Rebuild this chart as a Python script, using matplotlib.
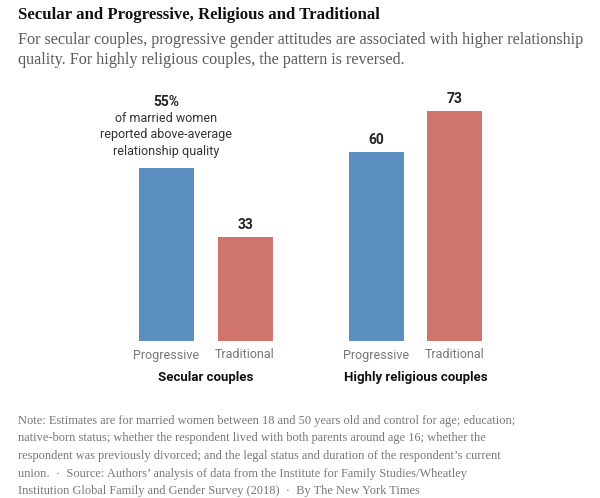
import matplotlib
matplotlib.use("Agg")
import matplotlib.pyplot as plt

# ── data ──────────────────────────────────────────────────────────────────────
groups = ["Secular couples", "Highly religious couples"]
attitudes = ["Progressive", "Traditional", "Progressive", "Traditional"]
values = [55, 33, 60, 73]
positions = [0, 1, 2.67, 3.67]

BLUE = "#5b8fc0"
RED = "#cf756d"
colors = [BLUE, RED, BLUE, RED]

W, H = 600, 498
SANS = ["Roboto", "DejaVu Sans"]
SERIF = ["Liberation Serif", "DejaVu Serif"]


def fy(px):
    return 1 - px / H


def fx(px):
    return px / W


fig = plt.figure(figsize=(W / 100, H / 100), dpi=100)
fig.patch.set_facecolor("white")

# axes placed in pixel terms: baseline at y=341, one unit = 78.5 px in x
ax_left, ax_right = 100, 520
ax_bottom, ax_top = 341, 80
ax = fig.add_axes([fx(ax_left), fy(ax_bottom), fx(ax_right - ax_left), (ax_bottom - ax_top) / H])
ax.set_xlim(-66.5 / 78.5, (ax_right - 166.5) / 78.5)
ax.set_ylim(0, (ax_bottom - ax_top) / 3.15)
ax.axis("off")

bars = ax.bar(positions, values, width=55 / 78.5, color=colors)

# value labels
for i, (p, v) in enumerate(zip(positions, values)):
    if i == 0:
        continue
    ax.annotate(str(v), (p, v), xytext=(0, 12 * 0.72), textcoords="offset points",
                ha="center", va="center", fontsize=10, fontweight="bold",
                color="#222222", family=SANS)

# first bar gets the explanatory label
p0, v0 = positions[0], values[0]
ax.annotate("55%", (p0, v0), xytext=(0, 66 * 0.72), textcoords="offset points",
            ha="center", va="center", fontsize=10, fontweight="bold",
            color="#222222", family=SANS)
ax.annotate("of married women\nreported above-average\nrelationship quality", (p0, v0),
            xytext=(0, 33 * 0.72), textcoords="offset points",
            ha="center", va="center", fontsize=9, color="#333333",
            family=SANS, linespacing=1.35)

# category labels under bars
for p, a in zip(positions, attitudes):
    ax.annotate(a, (p, 0), xytext=(0, -14 * 0.72), textcoords="offset points",
                ha="center", va="center", fontsize=9, color="#777777",
                family=SANS, annotation_clip=False)

# group labels
for g, (a, b) in zip(groups, [(0, 1), (2, 3)]):
    ax.annotate(g, ((positions[a] + positions[b]) / 2, 0), xytext=(0, -36 * 0.72),
                textcoords="offset points", ha="center", va="center",
                fontsize=9.5, fontweight="bold", color="#111111",
                family=SANS, annotation_clip=False)

# title, subtitle, note
fig.text(fx(18), fy(15), "Secular and Progressive, Religious and Traditional",
         ha="left", va="center", fontsize=12.1, fontweight="bold",
         color="#111111", family=SERIF)
fig.text(fx(18), fy(50),
         "For secular couples, progressive gender attitudes are associated with higher relationship\n"
         "quality. For highly religious couples, the pattern is reversed.",
         ha="left", va="center", fontsize=11.6, color="#5a5a5a",
         family=SERIF, linespacing=1.4)

note = ("Note: Estimates are for married women between 18 and 50 years old and control for age; education;\n"
        "native-born status; whether the respondent lived with both parents around age 16; whether the\n"
        "respondent was previously divorced; and the legal status and duration of the respondent\u2019s current\n"
        "union.  \u00b7  Source: Authors\u2019 analysis of data from the Institute for Family Studies/Wheatley\n"
        "Institution Global Family and Gender Survey (2018)  \u00b7  By The New York Times")
fig.text(fx(18), fy(456), note, ha="left", va="center", fontsize=8.95,
         color="#777777", family=SERIF, linespacing=1.62)

fig.savefig("out.png", dpi=100, facecolor="white")
